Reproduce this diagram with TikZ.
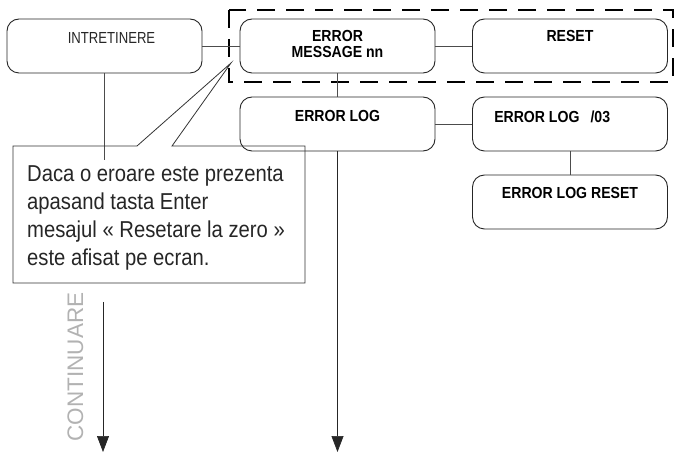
\documentclass[tikz,border=0pt]{standalone}
\usepackage{fontspec}
\setmainfont{Liberation Sans}
\newfontfamily\narrowfont[FakeStretch=0.82]{Liberation Sans}
\newfontfamily\boxfont[FakeStretch=0.88]{Liberation Sans}
\newfontfamily\notefont[FakeStretch=0.88]{Liberation Sans}
\usetikzlibrary{arrows.meta, positioning}

\begin{document}
\begin{tikzpicture}[x=1pt, y=-1pt,
  menubox/.style={draw=black!85, line width=0.9pt, rounded corners=12pt,
    minimum width=195pt, minimum height=54pt, inner sep=0pt},
  plaintxt/.style={font=\narrowfont\fontsize{16}{17}\selectfont, inner sep=0pt, text=black!85},
  boldtxt/.style={font=\boxfont\bfseries\fontsize{16}{16}\selectfont, inner sep=0pt, align=center},
  link/.style={draw=black!70, line width=0.7pt},
  downarrow/.style={link, draw=black!85, -{Triangle[width=12pt,length=16pt]}},
  groupbox/.style={draw=black, line width=2.4pt, dash pattern=on 18pt off 11pt},
  notebox/.style={draw=black!80, line width=0.8pt},
  notetxt/.style={font=\notefont\fontsize{23}{28}\selectfont, inner sep=0pt, align=left, text=black!85}]
  \useasboundingbox (0,0) rectangle (675,454);

  % menu boxes
  \node[menubox] (intr) at (104.5,46) {};
  \node[menubox] (errmsg) at (337.5,46) {};
  \node[menubox] (reset) at (570,46) {};
  \node[menubox] (errlog) at (337.5,124) {};
  \node[menubox] (log03) at (570,124) {};
  \node[menubox] (logreset) at (570,202) {};

  \node[plaintxt, below=13.5pt of intr.north, xshift=7pt] (intrtxt) {INTRETINERE};
  \node[boldtxt, below=12pt of errmsg.north] (errmsgtxt) {ERROR\\MESSAGE nn};
  \node[boldtxt, below=12pt of reset.north] (resettxt) {RESET};
  \node[boldtxt, below=14pt of errlog.north] (errlogtxt) {ERROR LOG};
  \node[boldtxt, below right=14pt and 22pt of log03.north west] (log03txt) {ERROR LOG\hspace{11pt}/03};
  \node[boldtxt, below=13pt of logreset.north] (logresettxt) {ERROR LOG RESET};

  % group around the error message
  \draw[groupbox] (229,10) rectangle (673,82);

  % connectors
  \draw[link] (intr) -- (errmsg);
  \draw[link] (errmsg) -- (reset);
  \draw[link] (errmsg) -- (errlog);
  \draw[link] (errlog) -- (log03);
  \draw[link] (log03) -- (logreset);

  \coordinate (intrcut) at (104.5,160);
  \draw[link] (intr) -- (intrcut);

  % arrows to the next pages
  \coordinate (contstart) at (103,302);
  \coordinate (contend) at (103,452);
  \coordinate (logend) at (337.5,452);
  \draw[downarrow] (contstart) -- (contend);
  \draw[downarrow] (errlog) -- (logend);
  \node[rotate=90, inner sep=0pt, text=black!30, font=\fontsize{22.5}{24}\selectfont] (cont) at (75.5,367) {CONTINUARE};

  % callout
  \coordinate (tip) at (231,63);
  \draw[notebox] (tip) -- (137,146) -- (13,146) -- (13,283) -- (305,283) -- (305,146) -- (172,146) -- cycle;
  \node[notetxt, anchor=north west] (note) at (27,165.5)
    {Daca o eroare este prezenta\\apasand tasta Enter\\mesajul « Resetare la zero »\\este afisat pe ecran.};
\end{tikzpicture}
\end{document}
